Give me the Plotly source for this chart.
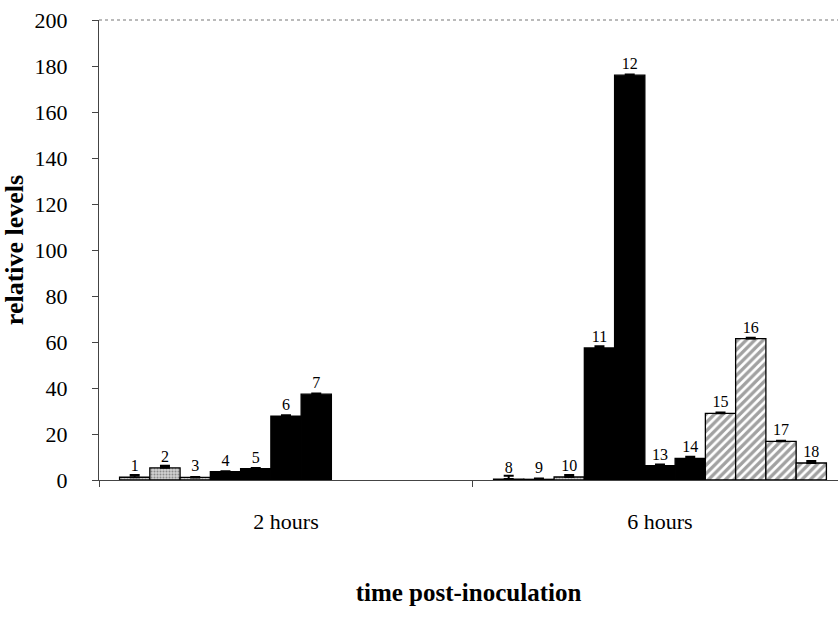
import plotly.graph_objects as go

categories = ["2 hours", "6 hours"]

labels_2h = ["1", "2", "3", "4", "5", "6", "7"]
values_2h = [1.2, 5.3, 1.1, 3.6, 4.9, 27.8, 37.3]
errors_2h = [1.0, 0.9, 0.2, 0.2, 0.3, 0.3, 0.3]
styles_2h = ["gray", "gray", "gray", "black", "black", "black", "black"]

labels_6h = ["8", "9", "10", "11", "12", "13", "14", "15", "16", "17", "18"]
values_6h = [0.4, 0.3, 1.3, 57.4, 176.0, 6.2, 9.4, 29.0, 61.5, 16.8, 7.4]
errors_6h = [1.4, 0.3, 0.9, 0.7, 0.3, 0.5, 0.7, 0.3, 0.3, 0.3, 0.9]
styles_6h = ["gray", "gray", "gray", "black", "black", "black", "black",
             "hatch", "hatch", "hatch", "hatch"]

y_ticks = [0, 20, 40, 60, 80, 100, 120, 140, 160, 180, 200]

FONT = "Liberation Serif, Times New Roman, serif"

style_color = {"gray": "#d0d0d0", "black": "#000000", "hatch": "#ffffff"}
style_shape = {"gray": ".", "black": "", "hatch": "/"}
style_fg = {"gray": "#707070", "black": "#000000", "hatch": "#000000"}
style_size = {"gray": 3, "black": 8, "hatch": 6}
style_solid = {"gray": 0.35, "black": 0.3, "hatch": 0.55}

n_slots = max(len(values_2h), len(values_6h))

fig = go.Figure()
for k in range(n_slots):
    ys, texts, errs, sty = [], [], [], []
    for vals, labs, ers, sts in ((values_2h, labels_2h, errors_2h, styles_2h),
                                 (values_6h, labels_6h, errors_6h, styles_6h)):
        if k < len(vals):
            ys.append(vals[k]); texts.append(labs[k]); errs.append(ers[k]); sty.append(sts[k])
        else:
            ys.append(None); texts.append(""); errs.append(0); sty.append("black")
    fig.add_trace(go.Bar(
        x=categories, y=ys, text=texts,
        textposition="outside",
        textfont=dict(family=FONT, size=16, color="black"),
        cliponaxis=False,
        marker=dict(
            color=[style_color[s] for s in sty],
            line=dict(color="black", width=1.3),
            pattern=dict(
                shape=[style_shape[s] for s in sty],
                fgcolor=[style_fg[s] for s in sty],
                bgcolor=[style_color[s] for s in sty],
                size=[style_size[s] for s in sty],
                solidity=[style_solid[s] for s in sty],
            ),
        ),
        error_y=dict(type="data", array=errs, arrayminus=[0] * len(errs),
                     symmetric=False, color="black", thickness=2, width=5),
        showlegend=False,
        hoverinfo="x+y",
    ))

fig.update_layout(
    width=838, height=628,
    margin=dict(l=99, r=0, t=20, b=148),
    paper_bgcolor="white", plot_bgcolor="white",
    barmode="group", bargap=0.11, bargroupgap=0,
    font=dict(family=FONT, color="black"),
)
fig.update_xaxes(
    type="category", range=[-0.5, 1.476],
    showline=True, linecolor="#444444", linewidth=1.3,
    ticks="outside", tickson="boundaries", ticklen=6, tickcolor="#444444",
    tickfont=dict(family=FONT, size=22),
    ticklabelstandoff=21,
    showgrid=False,
    title=dict(text="<b>time post-inoculation</b>", font=dict(family=FONT, size=25), standoff=50),
    automargin=False,
)
fig.update_yaxes(
    range=[0, 200], tickvals=y_ticks,
    showline=True, linecolor="#444444", linewidth=1.3,
    ticks="outside", ticklen=6, tickcolor="#444444",
    tickfont=dict(family=FONT, size=22),
    ticklabelstandoff=20,
    showgrid=False, zeroline=False,
    title=dict(text="<b>relative levels</b>", font=dict(family=FONT, size=26), standoff=5),
    automargin=False,
)
fig.add_shape(type="line", xref="paper", yref="paper", x0=0, x1=1, y0=1, y1=1,
              line=dict(color="#777777", width=1.2, dash="dot"))

fig.write_html("out.html", config={"displayModeBar": False},
               post_script="document.body.style.margin='0';")
